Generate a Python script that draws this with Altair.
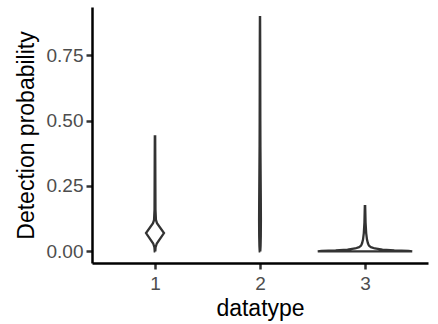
import altair as alt
import pandas as pd

# Violin outlines: probability levels and relative density (max = 1)
v1_prob = [0.0, 0.015, 0.03, 0.07, 0.108, 0.12, 0.16, 0.25, 0.35, 0.44]
v1_dens = [0.006, 0.012, 0.038, 0.19, 0.042, 0.02, 0.01, 0.008, 0.006, 0.004]

v2_prob = [0.0, 0.02, 0.06, 0.12, 0.2, 0.3, 0.4, 0.5, 0.6, 0.7, 0.8, 0.896]
v2_dens = [0.006, 0.012, 0.017, 0.019, 0.017, 0.013, 0.009, 0.007, 0.006, 0.005, 0.004, 0.002]

v3_prob = [0.0, 0.002, 0.004, 0.007, 0.011, 0.016, 0.022, 0.031, 0.045, 0.07, 0.11, 0.173]
v3_dens = [1.0, 0.92, 0.62, 0.37, 0.21, 0.125, 0.083, 0.062, 0.042, 0.025, 0.012, 0.004]

datatypes = [1, 2, 3]
y_ticks = [0.0, 0.25, 0.5, 0.75]
x_ticks = [1, 2, 3]

# Build closed outlines: right side going up, then left side coming down
rows = []
for dt, ps, ds in zip(datatypes, [v1_prob, v2_prob, v3_prob], [v1_dens, v2_dens, v3_dens]):
    pts = [(p, d, 1) for p, d in zip(ps, ds)] + [(p, d, -1) for p, d in zip(ps[::-1], ds[::-1])]
    pts.append((ps[0], ds[0], 1))
    for i, (p, d, s) in enumerate(pts):
        rows.append({"datatype": dt, "prob": p, "density": d, "side": s, "idx": i})
df = pd.DataFrame(rows)

chart = (
    alt.Chart(df)
    .transform_calculate(xpos="datum.datatype + datum.side * 0.45 * datum.density")
    .mark_line(stroke="#333333", strokeWidth=2.3, strokeJoin="miter")
    .encode(
        y=alt.Y(
            "prob:Q",
            scale=alt.Scale(domain=[-0.0445, 0.9345], nice=False, zero=False),
            axis=alt.Axis(
                title="Detection probability",
                values=y_ticks,
                format=".2f",
                grid=False,
                domainColor="black",
                domainWidth=2.5,
                tickColor="#333333",
                tickWidth=2.5,
                tickSize=6,
                labelPadding=3,
                labelColor="#4D4D4D",
                labelFontSize=19,
                labelFont="Liberation Sans",
                titleFont="Liberation Sans",
                titleFontSize=23,
                titleFontWeight="normal",
                titleColor="black",
                titleX=-59,
                titleY=128,
                titleBaseline="alphabetic",
                titleAngle=270,
            ),
        ),
        x=alt.X(
            "xpos:Q",
            scale=alt.Scale(domain=[0.4, 3.6], nice=False, zero=False),
            axis=alt.Axis(
                title="datatype",
                values=x_ticks,
                format="d",
                grid=False,
                domainColor="black",
                domainWidth=2.5,
                tickColor="#333333",
                tickWidth=2.5,
                tickSize=6,
                labelPadding=5,
                labelColor="#4D4D4D",
                labelFontSize=19,
                labelFont="Liberation Sans",
                titleFont="Liberation Sans",
                titleFontSize=23,
                titleFontWeight="normal",
                titleColor="black",
                titleY=52,
                titleBaseline="alphabetic",
            ),
        ),
        detail="datatype:N",
        order=alt.Order("idx:Q"),
    )
    .properties(
        width=336,
        height=256,
        autosize=alt.AutoSizeParams(type="none"),
        padding={"left": 92, "top": 7, "right": 10, "bottom": 61},
        background="white",
    )
    .configure_view(stroke=None)
)

chart.save("out.html", embed_options={"renderer": "svg", "actions": False})
